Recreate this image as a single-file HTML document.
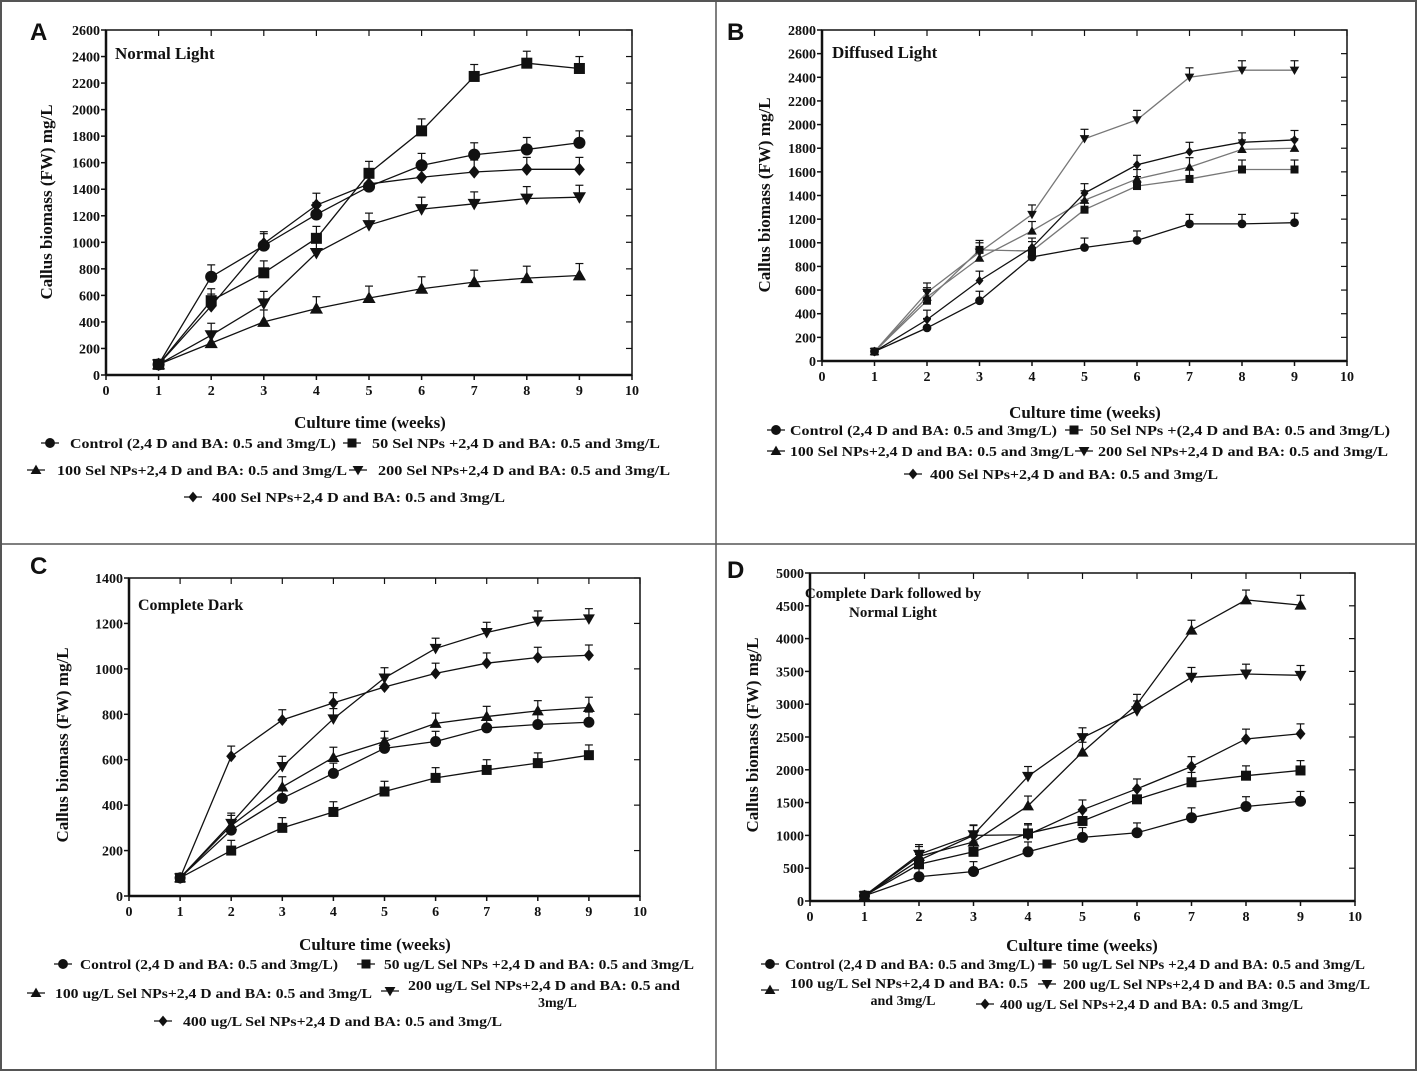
<!DOCTYPE html>
<html><head><meta charset="utf-8"><style>
html,body{margin:0;padding:0;background:#fff}
svg{display:block}
text{font-family:"Liberation Serif",serif;font-weight:bold;fill:#111}
</style></head><body>
<svg id="fig" width="1417" height="1071" viewBox="0 0 1417 1071">
<rect x="1" y="1" width="1415" height="1069" fill="none" stroke="#555" stroke-width="2"/>
<line x1="716" y1="1" x2="716" y2="1070" stroke="#555" stroke-width="1.5"/>
<line x1="1" y1="544" x2="1416" y2="544" stroke="#555" stroke-width="1.5"/>
</svg>
<script>
const weeks=[1,2,3,4,5,6,7,8,9];
const xTicks=[0,1,2,3,4,5,6,7,8,9,10];
const seriesKeys=["control","s50","s100","s200","s400"];
const markers=["circle","square","triangle","down","diamond"];
// Panel A
const aControl=[80,740,975,1210,1420,1580,1660,1700,1750];
const a50=[80,560,770,1030,1520,1840,2250,2350,2310];
const a100=[80,240,400,500,580,650,700,730,750];
const a200=[80,300,540,920,1130,1250,1290,1330,1340];
const a400=[80,520,990,1280,1440,1490,1530,1550,1550];
const aYTicks=[0,200,400,600,800,1000,1200,1400,1600,1800,2000,2200,2400,2600];
// Panel B
const bControl=[80,280,510,880,960,1020,1160,1160,1170];
const b50=[80,510,940,930,1280,1480,1540,1620,1620];
const b100=[80,540,870,1100,1360,1540,1640,1790,1800];
const b200=[80,580,920,1240,1880,2040,2400,2460,2460];
const b400=[80,350,680,960,1420,1660,1770,1850,1870];
const bYTicks=[0,200,400,600,800,1000,1200,1400,1600,1800,2000,2200,2400,2600,2800];
// Panel C
const cControl=[80,290,430,540,650,680,740,755,765];
const c50=[80,200,300,370,460,520,555,585,620];
const c100=[80,310,480,610,680,760,790,815,830];
const c200=[80,320,570,780,960,1090,1160,1210,1220];
const c400=[80,615,775,850,920,980,1025,1050,1060];
const cYTicks=[0,200,400,600,800,1000,1200,1400];
// Panel D
const dControl=[80,370,450,750,970,1040,1270,1440,1520];
const d50=[80,560,750,1030,1220,1550,1810,1910,1990];
const d100=[80,680,900,1450,2270,3000,4130,4590,4510];
const d200=[80,710,1010,1900,2490,2900,3410,3460,3440];
const d400=[80,620,1000,1010,1390,1710,2050,2470,2550];
const dYTicks=[0,500,1000,1500,2000,2500,3000,3500,4000,4500,5000];

const NS="http://www.w3.org/2000/svg";
const svg=document.getElementById("fig");
function mk(tag,attrs,parent,txt){const e=document.createElementNS(NS,tag);for(const k in attrs)e.setAttribute(k,attrs[k]);if(txt!==undefined)e.textContent=txt;(parent||svg).appendChild(e);return e;}

function marker(g,type,x,y,s,fill){
  let e;
  if(type==="circle")e=mk("circle",{cx:x,cy:y,r:s*0.55,fill:fill},g);
  else if(type==="square")e=mk("rect",{x:x-s/2,y:y-s/2,width:s,height:s,fill:fill},g);
  else if(type==="triangle")e=mk("polygon",{points:`${x},${y-s*0.6} ${x-s*0.6},${y+s*0.45} ${x+s*0.6},${y+s*0.45}`,fill:fill},g);
  else if(type==="down")e=mk("polygon",{points:`${x},${y+s*0.6} ${x-s*0.6},${y-s*0.45} ${x+s*0.6},${y-s*0.45}`,fill:fill},g);
  else e=mk("polygon",{points:`${x},${y-s*0.6} ${x+s*0.5},${y} ${x},${y+s*0.6} ${x-s*0.5},${y}`,fill:fill},g);
  return e;
}

function panel(p){
  const g=mk("g",{});
  
  
  const sx=v=>p.x0+(v-0)/(10)*(p.x1-p.x0);
  const ymax=p.yTicks[p.yTicks.length-1];
  const sy=v=>p.y0-(v/ymax)*(p.y0-p.y1);
  const lbl=mk("text",{x:p.lx,y:p.ly,"font-family":"Liberation Sans, sans-serif","font-size":24},g,p.letter);
  
  
  lbl.style.fontFamily='"Liberation Sans",sans-serif';
  const fr=mk("rect",{x:p.x0,y:p.y1,width:p.x1-p.x0,height:p.y0-p.y1,fill:"none",stroke:"#111","stroke-width":1.5},g);
  
  
  const xa=mk("line",{x1:p.x0,y1:p.y0,x2:p.x1,y2:p.y0,stroke:"#111","stroke-width":2.5},g);
  
  
  const ya=mk("line",{x1:p.x0,y1:p.y0,x2:p.x0,y2:p.y1,stroke:"#111","stroke-width":2.5},g);
  
  
  xTicks.forEach(t=>{
    const x=sx(t);
    mk("line",{x1:x,y1:p.y0,x2:x,y2:p.y0+5,stroke:"#111","stroke-width":1.5},g);
    mk("line",{x1:x,y1:p.y1,x2:x,y2:p.y1+6,stroke:"#111","stroke-width":1.2},g);
    const tl=mk("text",{x:x,y:p.y0+20,"text-anchor":"middle","font-size":14},g,String(t));
    
    
  });
  p.yTicks.forEach(t=>{
    const y=sy(t);
    mk("line",{x1:p.x0-5,y1:y,x2:p.x0,y2:y,stroke:"#111","stroke-width":1.5},g);
    mk("line",{x1:p.x1-6,y1:y,x2:p.x1,y2:y,stroke:"#111","stroke-width":1.2},g);
    const tl=mk("text",{x:p.x0-6,y:y+5,"text-anchor":"end","font-size":14},g,String(t));
    
    
  });
  p.title.forEach((t,i)=>{
    const tt=mk("text",{x:p.tx,y:p.ty+i*19,"text-anchor":p.tanchor||"start","font-size":p.tsize||17},g,t);
    
    
  });
  const xt=mk("text",{x:(p.xtx),y:p.xty,"text-anchor":"middle","font-size":17},g,"Culture time (weeks)");
  
  
  const ytt=mk("text",{x:0,y:0,"text-anchor":"middle","font-size":17,transform:`translate(${p.ytx},${p.yty}) rotate(-90)`},g,"Callus biomass (FW) mg/L");
  
  
  p.series.forEach((vals,si)=>{
    const sg=mk("g",{},g);
    
    
    const col=(p.grey&&p.grey[si])?"#777":"#111";
    const pts=weeks.map((w,i)=>sx(w)+","+sy(vals[i])).join(" ");
    mk("polyline",{points:pts,fill:"none",stroke:col,"stroke-width":1.3},sg);
    weeks.forEach((w,i)=>{
      const x=sx(w),y=sy(vals[i]);
      if(i>0){const e=sy(vals[i]+p.err)-y;
        mk("line",{x1:x,y1:y,x2:x,y2:y+e,stroke:"#111","stroke-width":1.2},sg);
        mk("line",{x1:x-4,y1:y+e,x2:x+4,y2:y+e,stroke:"#111","stroke-width":1.2},sg);}
      const m=marker(sg,markers[si],x,y,p.ms,"#111");
      
      
    });
  });
  p.legend.forEach(L=>{
    const lg=mk("g",{},g);
    
    
    if(L.m!==undefined){
      mk("line",{x1:L.mx-9,y1:L.my,x2:L.mx+9,y2:L.my,stroke:"#111","stroke-width":1.3},lg);
      marker(lg,markers[L.m],L.mx,L.my,9,"#111");
    }
    const a={x:L.x,y:L.y,"font-size":14};
    if(L.w){a.textLength=L.w;a.lengthAdjust="spacingAndGlyphs";}
    if(L.anchor)a["text-anchor"]=L.anchor;
    mk("text",a,lg,L.t);
  });
}

panel({name:"panel-a-normal-light",letter:"A",lx:30,ly:40,x0:106,x1:632,y0:375,y1:30,yTicks:aYTicks,
  series:[aControl,a50,a100,a200,a400],err:90,ms:11,
  title:["Normal Light"],tx:115,ty:59,
  xtx:370,xty:428,ytx:52,yty:202,
  legend:[
    {m:0,mx:50,my:443,x:70,y:448,w:266,t:"Control (2,4 D and BA: 0.5 and 3mg/L)"},
    {m:1,mx:352,my:443,x:372,y:448,w:288,t:"50 Sel NPs +2,4 D and BA: 0.5 and 3mg/L"},
    {m:2,mx:36,my:470,x:57,y:475,w:290,t:"100 Sel NPs+2,4 D and BA: 0.5 and 3mg/L"},
    {m:3,mx:358,my:470,x:378,y:475,w:292,t:"200 Sel NPs+2,4 D and BA: 0.5 and 3mg/L"},
    {m:4,mx:193,my:497,x:212,y:502,w:293,t:"400 Sel NPs+2,4 D and BA: 0.5 and 3mg/L"}]});

panel({name:"panel-b-diffused-light",letter:"B",lx:727,ly:40,x0:822,x1:1347,y0:361,y1:30,yTicks:bYTicks,
  series:[bControl,b50,b100,b200,b400],err:80,ms:8,grey:[false,true,true,true,false],
  title:["Diffused Light"],tx:832,ty:58,
  xtx:1085,xty:418,ytx:770,yty:195,
  legend:[
    {m:0,mx:776,my:430,x:790,y:435,w:267,t:"Control (2,4 D and BA: 0.5 and 3mg/L)"},
    {m:1,mx:1074,my:430,x:1090,y:435,w:300,t:"50 Sel NPs +(2,4 D and BA: 0.5 and 3mg/L)"},
    {m:2,mx:776,my:451,x:790,y:456,w:284,t:"100 Sel NPs+2,4 D and BA: 0.5 and 3mg/L"},
    {m:3,mx:1084,my:451,x:1098,y:456,w:290,t:"200 Sel NPs+2,4 D and BA: 0.5 and 3mg/L"},
    {m:4,mx:913,my:474,x:930,y:479,w:288,t:"400 Sel NPs+2,4 D and BA: 0.5 and 3mg/L"}]});

panel({name:"panel-c-complete-dark",letter:"C",lx:30,ly:574,x0:129,x1:640,y0:896,y1:578,yTicks:cYTicks,
  series:[cControl,c50,c100,c200,c400],err:45,ms:10,
  title:["Complete Dark"],tx:138,ty:610,tsize:16,
  xtx:375,xty:950,ytx:68,yty:745,
  legend:[
    {m:0,mx:63,my:964,x:80,y:969,w:258,t:"Control (2,4 D and BA: 0.5 and 3mg/L)"},
    {m:1,mx:366,my:964,x:384,y:969,w:310,t:"50 ug/L Sel NPs +2,4 D and BA: 0.5 and 3mg/L"},
    {m:2,mx:36,my:993,x:55,y:998,w:317,t:"100 ug/L Sel NPs+2,4 D and BA: 0.5 and 3mg/L"},
    {m:3,mx:390,my:991,x:408,y:990,w:272,t:"200 ug/L Sel NPs+2,4 D and BA: 0.5 and"},
    {x:538,y:1007,t:"3mg/L"},
    {m:4,mx:163,my:1021,x:183,y:1026,w:319,t:"400 ug/L Sel NPs+2,4 D and BA: 0.5 and 3mg/L"}]});

panel({name:"panel-d-dark-then-light",letter:"D",lx:727,ly:578,x0:810,x1:1355,y0:901,y1:573,yTicks:dYTicks,
  series:[dControl,d50,d100,d200,d400],err:150,ms:10,
  title:["Complete Dark followed by","Normal Light"],tx:893,ty:598,tanchor:"middle",tsize:15,
  xtx:1082,xty:951,ytx:758,yty:735,
  legend:[
    {m:0,mx:770,my:964,x:785,y:969,w:250,t:"Control (2,4 D and BA: 0.5 and 3mg/L)"},
    {m:1,mx:1047,my:964,x:1063,y:969,w:302,t:"50 ug/L Sel NPs +2,4 D and BA: 0.5 and 3mg/L"},
    {m:2,mx:770,my:990,x:790,y:988,w:238,t:"100 ug/L Sel NPs+2,4 D and BA: 0.5"},
    {x:903,y:1005,anchor:"middle",t:"and 3mg/L"},
    {m:3,mx:1047,my:984,x:1063,y:989,w:307,t:"200 ug/L Sel NPs+2,4 D and BA: 0.5 and 3mg/L"},
    {m:4,mx:985,my:1004,x:1000,y:1009,w:303,t:"400 ug/L Sel NPs+2,4 D and BA: 0.5 and 3mg/L"}]});
</script>
</body></html>
